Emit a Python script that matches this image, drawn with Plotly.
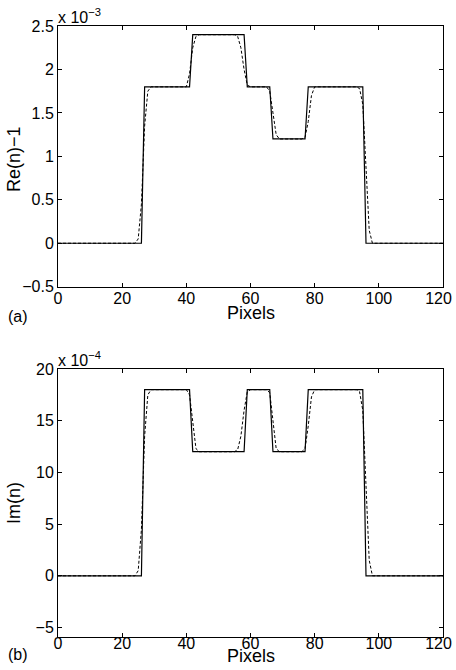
import plotly.graph_objects as go

# ---- data ----
# Panel (a): Re(n)-1, in units of 1e-3
re_solid_x = [0, 26, 27, 41, 42, 58, 59, 66, 67, 77, 78, 95, 96, 120]
re_solid_y = [0, 0, 1.8, 1.8, 2.4, 2.4, 1.8, 1.8, 1.2, 1.2, 1.8, 1.8, 0, 0]
re_dash_x = [0, 24, 25, 26, 27, 28, 29, 40, 41, 42, 43, 44, 55, 56, 57, 58, 59, 60,
             65, 66, 67, 68, 69, 76, 77, 78, 79, 80, 93, 94, 95, 96, 97, 98, 120]
re_dash_y = [0, 0, 0.05, 0.45, 1.35, 1.75, 1.8, 1.8, 1.95, 2.25, 2.38, 2.4, 2.4, 2.38, 2.25, 2.0, 1.82, 1.8,
             1.8, 1.75, 1.5, 1.25, 1.2, 1.2, 1.22, 1.4, 1.7, 1.8, 1.8, 1.78, 1.6, 0.9, 0.15, 0, 0]

# Panel (b): Im(n), in units of 1e-4
im_solid_x = [0, 26, 27, 41, 42, 58, 59, 66, 67, 77, 78, 95, 96, 120]
im_solid_y = [0, 0, 18, 18, 12, 12, 18, 18, 12, 12, 18, 18, 0, 0]
im_dash_x = [0, 24, 25, 26, 27, 28, 29, 40, 41, 42, 43, 44, 55, 56, 57, 58, 59, 60,
             65, 66, 67, 68, 69, 76, 77, 78, 79, 80, 93, 94, 95, 96, 97, 98, 120]
im_dash_y = [0, 0, 0.5, 4.5, 13.5, 17.5, 18, 18, 17.5, 15, 12.3, 12, 12, 12.2, 13.5, 16, 17.8, 18,
             18, 17.7, 15, 12.3, 12, 12, 12.3, 14.5, 17.3, 18, 18, 17.8, 16, 9, 1.5, 0, 0]

x_ticks = [0, 20, 40, 60, 80, 100, 120]
x_tick_text = ["0", "20", "40", "60", "80", "100", "120\u00a0\u00a0"]
re_ticks = [-0.5, 0, 0.5, 1, 1.5, 2, 2.5]
re_tick_text = ["\u22120.5", "0", "0.5", "1", "1.5", "2", "2.5"]
im_ticks = [-5, 0, 5, 10, 15, 20]
im_tick_text = ["\u22125", "0", "5", "10", "15", "20"]

FONT = "Liberation Sans, Arial, Helvetica, sans-serif"
W, H = 456, 670
ML, MR, MT, MB = 58, 13, 26, 33
PH = H - MT - MB

def py(pix):
    return 1 - (pix - MT) / PH

def pxx(pix):
    return (pix - ML) / (W - ML - MR)

fig = go.Figure()
solid = dict(color="black", width=1.2)
dashed = dict(color="black", width=1, dash="3px,2px")
fig.add_trace(go.Scatter(x=re_solid_x, y=re_solid_y, mode="lines", line=solid, xaxis="x", yaxis="y", showlegend=False))
fig.add_trace(go.Scatter(x=re_dash_x, y=re_dash_y, mode="lines", line=dashed, xaxis="x", yaxis="y", showlegend=False))
fig.add_trace(go.Scatter(x=im_solid_x, y=im_solid_y, mode="lines", line=solid, xaxis="x2", yaxis="y2", showlegend=False))
fig.add_trace(go.Scatter(x=im_dash_x, y=im_dash_y, mode="lines", line=dashed, xaxis="x2", yaxis="y2", showlegend=False))

axcommon = dict(showline=True, linecolor="black", linewidth=1, mirror="ticks", ticks="inside",
                ticklen=4, tickcolor="black", showgrid=False, zeroline=False,
                ticklabeloverflow="allow", automargin=False,
                tickfont=dict(family=FONT, size=16, color="black"))

fig.update_layout(
    width=W, height=H, margin=dict(l=ML, r=MR, t=MT, b=MB, autoexpand=False),
    paper_bgcolor="white", plot_bgcolor="white",
    xaxis=dict(domain=[0, 1], range=[0, 120], tickvals=x_ticks, ticktext=x_tick_text,
               anchor="y", ticklabelstandoff=-3, **axcommon),
    yaxis=dict(domain=[py(286.7), 1], range=[-0.5, 2.5], tickvals=re_ticks, ticktext=re_tick_text, anchor="x", **axcommon),
    xaxis2=dict(domain=[0, 1], range=[0, 120], tickvals=x_ticks, ticktext=x_tick_text,
                anchor="y2", ticklabelstandoff=-8, **axcommon),
    yaxis2=dict(domain=[0, py(369)], range=[-5.92, 20], tickvals=im_ticks, ticktext=im_tick_text, anchor="x2", **axcommon),
)

def ann(text, x, y, size, xanchor="center", yanchor="middle", angle=0):
    fig.add_annotation(text=text, xref="paper", yref="paper", x=x, y=y, showarrow=False,
                       xanchor=xanchor, yanchor=yanchor, textangle=angle,
                       font=dict(family=FONT, size=size, color="black"))

# panel (a) texts
ann("Pixels", 0.5, py(313), 18)
ann("(a)", pxx(18), py(316), 16)
ann("Re(n)\u22121", pxx(14), py(159), 18, angle=-90)
ann("x 10<sup>\u22123</sup>", pxx(56), py(28), 16, xanchor="left", yanchor="bottom")
# panel (b) texts
ann("Pixels", 0.5, py(656), 18)
ann("(b)", pxx(18), py(654), 16)
ann("Im(n)", pxx(14), py(503), 18, angle=-90)
ann("x 10<sup>\u22124</sup>", pxx(56), py(371), 16, xanchor="left", yanchor="bottom")

fig.write_html("out.html", config={"displayModeBar": False},
               post_script="document.body.style.margin='0px';")
